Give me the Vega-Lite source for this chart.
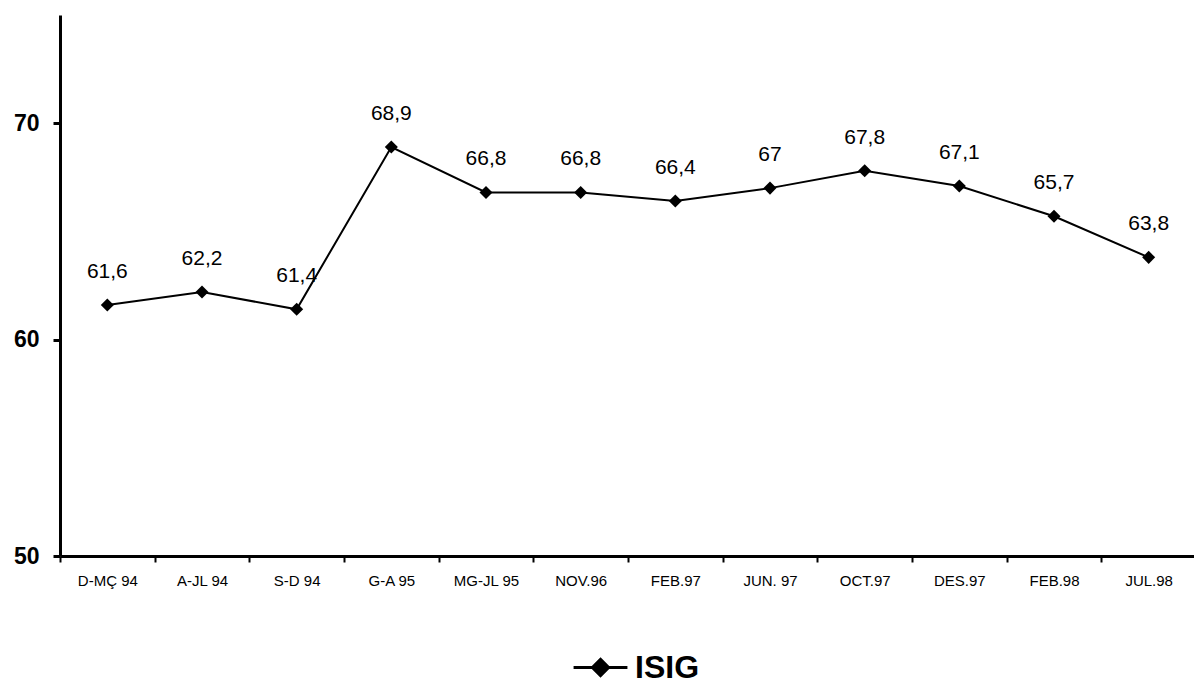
{
  "$schema": "https://vega.github.io/schema/vega-lite/v6.json",
  "width": 1136,
  "height": 541,
  "autosize": {"type": "none"},
  "padding": {"left": 60, "top": 15, "right": 0, "bottom": 132},
  "background": "white",
  "config": {
    "view": {"stroke": null},
    "font": "Liberation Sans",
    "locale": {"number": {"decimal": ",", "thousands": ".", "grouping": [3], "currency": ["", " €"]}}
  },
  "data": {"values": [
    {"period": "D-MÇ 94", "value": 61.6, "series": "ISIG"},
    {"period": "A-JL 94", "value": 62.2, "series": "ISIG"},
    {"period": "S-D 94", "value": 61.4, "series": "ISIG"},
    {"period": "G-A 95", "value": 68.9, "series": "ISIG"},
    {"period": "MG-JL 95", "value": 66.8, "series": "ISIG"},
    {"period": "NOV.96", "value": 66.8, "series": "ISIG"},
    {"period": "FEB.97", "value": 66.4, "series": "ISIG"},
    {"period": "JUN. 97", "value": 67, "series": "ISIG"},
    {"period": "OCT.97", "value": 67.8, "series": "ISIG"},
    {"period": "DES.97", "value": 67.1, "series": "ISIG"},
    {"period": "FEB.98", "value": 65.7, "series": "ISIG"},
    {"period": "JUL.98", "value": 63.8, "series": "ISIG"}
  ]},
  "encoding": {
    "x": {
      "field": "period", "type": "nominal", "sort": null,
      "scale": {"type": "band", "paddingInner": 0, "paddingOuter": 0},
      "axis": {
        "title": null, "labelAngle": 0, "tickBand": "extent",
        "domainColor": "black", "domainWidth": 3, "tickColor": "black", "tickWidth": 2, "tickSize": 6,
        "labelFont": "Liberation Sans", "labelFontSize": 15, "labelColor": "black", "labelPadding": 11, "grid": false
      }
    },
    "y": {
      "field": "value", "type": "quantitative",
      "scale": {"domain": [50, 75], "nice": false, "zero": false},
      "axis": {
        "title": null, "values": [50, 60, 70], "grid": false,
        "domainColor": "black", "domainWidth": 3, "tickColor": "black", "tickWidth": 3, "tickSize": 7,
        "labelFont": "Liberation Sans", "labelFontSize": 23, "labelFontWeight": "bold", "labelColor": "black", "labelPadding": 14
      }
    }
  },
  "layer": [
    {
      "mark": {"type": "line", "strokeWidth": 2},
      "encoding": {
        "color": {
          "field": "series", "type": "nominal",
          "scale": {"range": ["black"]},
          "legend": {
            "title": null, "orient": "none", "legendX": 512, "legendY": 624,
            "symbolType": "M-1,0L1,0M0,-0.3L0.3,0L0,0.3L-0.3,0Z",
            "symbolSize": 2900, "symbolStrokeWidth": 3, "symbolFillColor": "black", "symbolStrokeColor": "black",
            "labelFont": "Liberation Sans", "labelFontSize": 32, "labelFontWeight": "bold", "labelColor": "black", "labelOffset": 6
          }
        }
      }
    },
    {
      "mark": {"type": "point", "shape": "diamond", "filled": true, "size": 170, "color": "black", "opacity": 1}
    },
    {
      "mark": {"type": "text", "dy": -33, "fontSize": 21, "font": "Liberation Sans", "color": "black"},
      "encoding": {"text": {"field": "value", "type": "quantitative", "format": ".1~f"}}
    }
  ]
}
